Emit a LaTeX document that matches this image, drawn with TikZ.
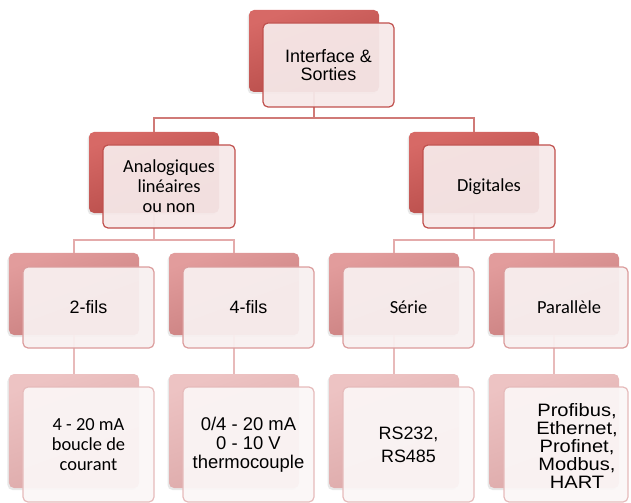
\documentclass[tikz,border=0pt]{standalone}
\usepackage{fontspec}
\setmainfont{Liberation Sans}
\newfontfamily\calf{Carlito}
\newfontfamily\ariwide[FakeStretch=1.12]{Liberation Sans}
\usetikzlibrary{shadows}
\definecolor{bAtop}{HTML}{D76966}
\definecolor{bAbot}{HTML}{B34946}
\definecolor{bCtop}{HTML}{E29C9C}
\definecolor{bCbot}{HTML}{C77D7D}
\definecolor{bDtop}{HTML}{EDC3C3}
\definecolor{bDbot}{HTML}{DCA8A8}
\definecolor{fA}{HTML}{F6E9E9}
\definecolor{fC}{HTML}{F8F0F0}
\definecolor{fD}{HTML}{FBF6F6}
\definecolor{lnA}{HTML}{C0504D}
\definecolor{lnC}{HTML}{DB9C9C}
\definecolor{lnD}{HTML}{E6BBBB}
\definecolor{cA}{HTML}{D07A77}
\definecolor{cC}{HTML}{E4ABAB}
\definecolor{cD}{HTML}{E8BABA}
\begin{document}
\begin{tikzpicture}[x=1bp,y=-1bp,
  backbox/.style={rectangle, rounded corners=5bp, inner sep=0pt, minimum width=130bp, draw=none,
    drop shadow={shadow xshift=-1.5bp, shadow yshift=-2bp, opacity=0.18}},
  bkA/.style={backbox, top color=bAtop, bottom color=bAbot, shading angle=20},
  bkC/.style={backbox, top color=bCtop, bottom color=bCbot, shading angle=20},
  bkD/.style={backbox, top color=bDtop, bottom color=bDbot, shading angle=20},
  frontbox/.style={rectangle, rounded corners=5bp, inner sep=0pt, minimum width=132bp, line width=1.2bp,
    fill opacity=0.94, text opacity=1, align=center, text=black},
  frA/.style={frontbox, draw=lnA, fill=fA},
  frC/.style={frontbox, draw=lnC, fill=fC},
  frD/.style={frontbox, draw=lnD, fill=fD},
  txt/.style={inner sep=0pt, align=center, text=black},
  conA/.style={draw=cA, line width=1.2bp},
  conC/.style={draw=cC, line width=1.2bp},
  conD/.style={draw=cD, line width=1.2bp},
  ari/.style={font=\fontsize{18}{17.5}\selectfont},
  cal/.style={font=\calf\fontsize{18.5}{20}\selectfont}
]
\useasboundingbox (0,0) rectangle (631,503);
% back boxes
\node[bkA, minimum height=82bp] (b1) at (314,51) {};
\node[bkA, minimum height=81bp] (b21) at (154,172.5) {};
\node[bkA, minimum height=81bp] (b22) at (474,172.5) {};
\node[bkC, minimum height=82bp] (b31) at (74,294) {};
\node[bkC, minimum height=82bp] (b32) at (234,294) {};
\node[bkC, minimum height=82bp] (b33) at (394,294) {};
\node[bkC, minimum height=82bp] (b34) at (554,294) {};
\node[bkD, minimum height=114bp] (b41) at (74,431) {};
\node[bkD, minimum height=114bp] (b42) at (234,431) {};
\node[bkD, minimum height=114bp] (b43) at (394,431) {};
\node[bkD, minimum height=114bp] (b44) at (554,431) {};
% connectors
\coordinate (h1) at (0,118);
\coordinate (h2) at (0,240);
\path[conA] (b1.south) -- (b1.south |- h1);
\path[conA] (b21.north) -- (b21.north |- h1) -- (b22.north |- h1) -- (b22.north);
\path[conC] (b21.south) -- (b21.south |- h2);
\path[conC] (b31.north) -- (b31.north |- h2) -- (b32.north |- h2) -- (b32.north);
\path[conC] (b22.south) -- (b22.south |- h2);
\path[conC] (b33.north) -- (b33.north |- h2) -- (b34.north |- h2) -- (b34.north);
\path[conD] (b31.south) -- (b41.north);
\path[conD] (b32.south) -- (b42.north);
\path[conD] (b33.south) -- (b43.north);
\path[conD] (b34.south) -- (b44.north);
% front boxes
\node[frA, ari, minimum width=131bp, minimum height=84bp] (f1) at (328.5,65) {Interface \&\\Sorties};
\node[frA, cal, minimum height=83bp] (f21) at (169,186.5) {Analogiques\\linéaires\\ou non};
\node[frA, cal, minimum height=83bp] (f22) at (489,186.5) {Digitales};
\node[frC, ari, minimum width=131bp, minimum height=81bp] (f31) at (88.5,307.5) {2-fils};
\node[frC, ari, minimum width=131bp, minimum height=81bp] (f32) at (248.5,307.5) {4-fils};
\node[frC, cal, minimum width=131bp, minimum height=81bp] (f33) at (408.5,307.5) {Série};
\node[frC, minimum width=124bp, minimum height=81bp] (f34) at (566,307.5) {};
\node[txt, cal] (t34) at (569,307.5) {Parallèle};
\node[frD, cal, minimum width=131bp, minimum height=115bp] (f41) at (88.5,444.5) {4 - 20 mA\\boucle de\\courant};
\node[frD, font=\fontsize{18.5}{19}\selectfont, minimum width=131bp, minimum height=115bp] (f42) at (248.5,444.5) {0/4 - 20 mA\\0 - 10 V\\thermocouple};
\node[frD, font=\fontsize{18}{23}\selectfont, minimum width=131bp, minimum height=115bp] (f43) at (408.5,444.5) {RS232,\\RS485};
\node[frD, minimum width=124bp, minimum height=115bp] (f44) at (566,444.5) {};
\node[txt, font=\ariwide\fontsize{18}{18.3}\selectfont] (t44) at (577,446) {Profibus,\\Ethernet,\\Profinet,\\Modbus,\\HART};
\end{tikzpicture}
\end{document}
